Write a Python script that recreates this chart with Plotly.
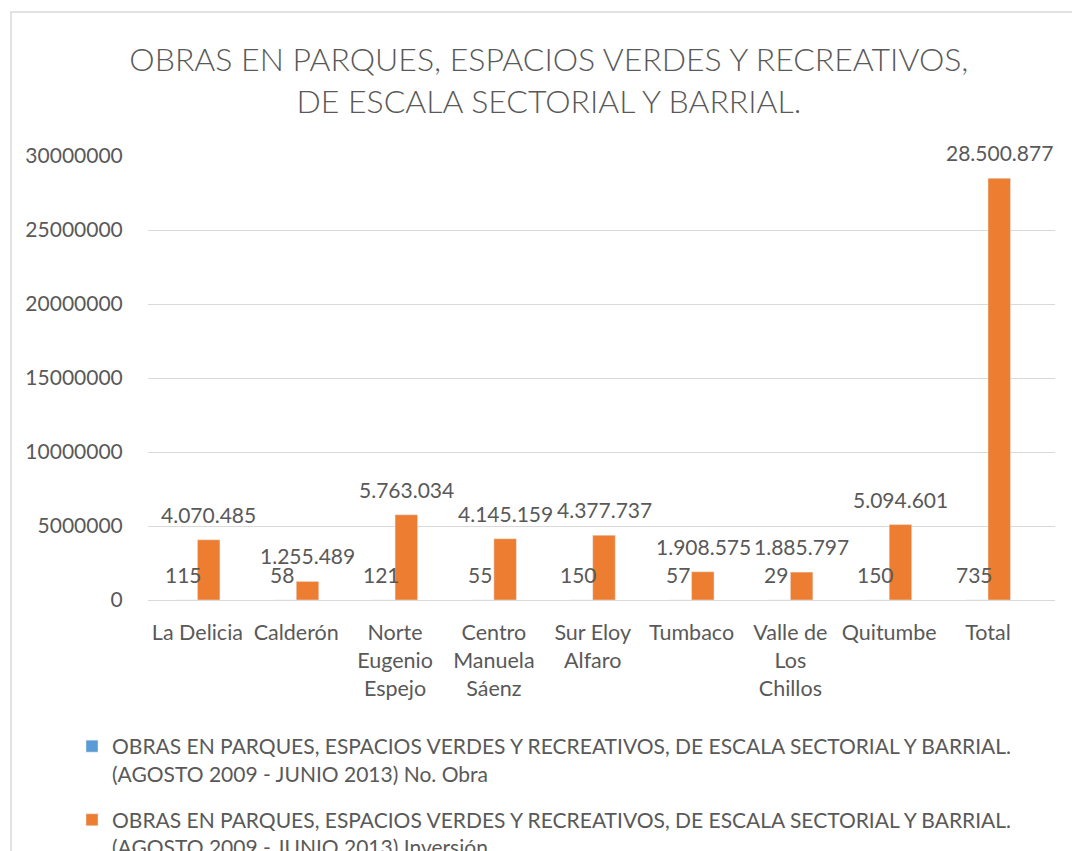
import plotly.graph_objects as go

# ------------------------------------------------------
# DATA
# ------------------------------------------------------
categories = [
    "La Delicia", "Calderón", "Norte<br>Eugenio<br>Espejo", "Centro<br>Manuela<br>Sáenz",
    "Sur Eloy<br>Alfaro", "Tumbaco", "Valle de<br>Los<br>Chillos", "Quitumbe", "Total",
]
num_obras = [115, 58, 121, 55, 150, 57, 29, 150, 735]
inversion = [4070485, 1255489, 5763034, 4145159, 4377737, 1908575, 1885797, 5094601, 28500877]

y_ticks = [0, 5000000, 10000000, 15000000, 20000000, 25000000, 30000000]

series_obra = "OBRAS EN PARQUES, ESPACIOS VERDES Y RECREATIVOS, DE ESCALA SECTORIAL Y BARRIAL.<br>(AGOSTO 2009 - JUNIO 2013) No. Obra"
series_inv = "OBRAS EN PARQUES, ESPACIOS VERDES Y RECREATIVOS, DE ESCALA SECTORIAL Y BARRIAL.<br>(AGOSTO 2009 - JUNIO 2013) Inversión"
title_text = "OBRAS EN PARQUES, ESPACIOS VERDES Y RECREATIVOS,<br>DE ESCALA SECTORIAL Y BARRIAL."

FONT = "Lato"
TXT = "#595959"
GRID = "#d9d9d9"
BLUE = "#5B9BD5"
ORANGE = "#ED7D31"

# plot area in pixels (used to place legend / border in paper units)
PL, PR, PT, PB = 148, 1055, 156, 600
PW, PH = PR - PL, PB - PT


def fmt(v):
    return f"{v:,}".replace(",", ".")


# ------------------------------------------------------
# FIGURE
# ------------------------------------------------------
fig = go.Figure()

fig.add_trace(go.Bar(
    x=categories, y=num_obras, name=series_obra,
    marker_color=BLUE, legendgroup="a",
))
fig.add_trace(go.Bar(
    x=categories, y=inversion, name=series_inv,
    marker_color=ORANGE, legendgroup="b",
))

# data labels (Excel style, a bit above the bar end)
annotations = []
for cat, n, v in zip(categories, num_obras, inversion):
    annotations.append(dict(x=cat, y=n, text=fmt(n), xshift=-14, yshift=11,
                            yanchor="bottom", showarrow=False,
                            font=dict(family=FONT, size=21, color=TXT)))
    annotations.append(dict(x=cat, y=v, text=fmt(v), xshift=11.5, yshift=11,
                            yanchor="bottom", showarrow=False,
                            font=dict(family=FONT, size=21, color=TXT)))

fig.update_layout(
    width=1072, height=851,
    margin=dict(l=PL, r=1072 - PR, t=PT, b=851 - PB, autoexpand=False),
    paper_bgcolor="white", plot_bgcolor="white",
    font=dict(family=FONT, size=21, color=TXT),
    title=dict(text=title_text, xref="container", yref="container",
               x=0.512, xanchor="center", y=1 - 71 / 851, yanchor="top",
               font=dict(family=FONT, size=32, color=TXT, weight=300)),
    barmode="group", bargap=0.544, bargroupgap=0,
    xaxis=dict(showgrid=False, showline=True, linecolor=GRID, linewidth=1,
               ticks="outside", ticklen=13, tickcolor="rgba(0,0,0,0)",
               tickangle=0,
               tickfont=dict(family=FONT, size=21.5, color=TXT)),
    yaxis=dict(range=[0, 30000000], tickvals=y_ticks, tickformat="d",
               showgrid=True, gridcolor=GRID, gridwidth=1, zeroline=False,
               ticks="outside", ticklen=20, tickcolor="rgba(0,0,0,0)",
               tickfont=dict(family=FONT, size=21, color=TXT)),
    legend=dict(x=(72 - PL) / PW, y=(PB - 726) / PH,
                xanchor="left", yanchor="top", orientation="v",
                valign="top", tracegroupgap=16, traceorder="grouped",
                bgcolor="rgba(0,0,0,0)",
                font=dict(family=FONT, size=21, color=TXT)),
    annotations=annotations,
    shapes=[dict(type="rect", xref="paper", yref="paper",
                 x0=(11 - PL) / PW, x1=(1090 - PL) / PW,
                 y0=(PB - 880) / PH, y1=(PB - 12) / PH,
                 line=dict(color=GRID, width=1.5), fillcolor="rgba(0,0,0,0)",
                 layer="below")],
    showlegend=True,
)

fig.write_html("out.html", config={"displayModeBar": False},
               post_script="document.body.style.margin='0';")
